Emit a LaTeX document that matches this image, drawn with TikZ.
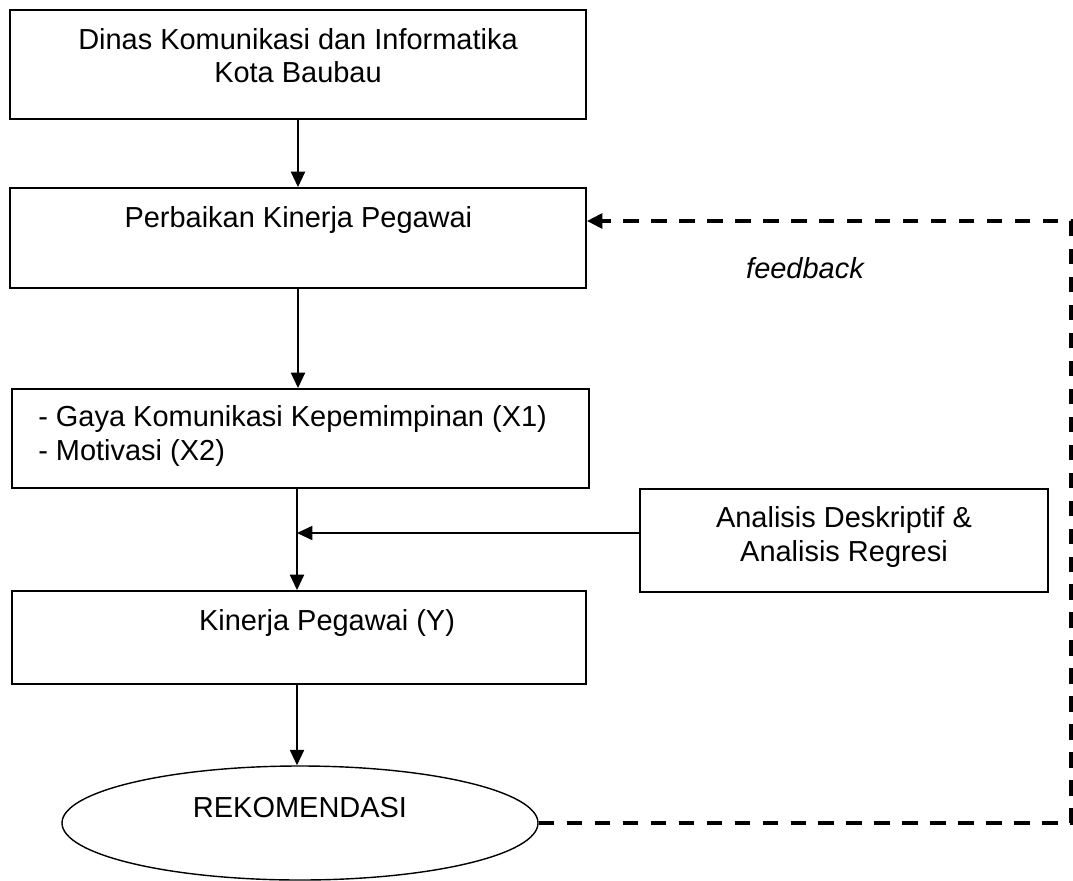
\documentclass[tikz,border=0pt]{standalone}
\usepackage{fontspec}
\setmainfont{Liberation Sans}
\usepackage{tikz}
\usetikzlibrary{arrows.meta,shapes.geometric}

\begin{document}
\begin{tikzpicture}[
        box/.style={draw, line width=1.3pt, inner sep=0pt},
        txt/.style={inner sep=0pt, font=\fontsize{20.6}{23.5}\selectfont},
        flow/.style={line width=1.4pt, -{Triangle[length=11pt, width=10pt]}},
        fback/.style={line width=2.6pt, dash pattern=on 11pt off 8.9pt, -{Triangle[length=11pt, width=10.5pt]}}
    ]
            % Frame to fix the page size
            \useasboundingbox (0,0) rectangle (26.825,-22);
            % Boxes
            \node[box, minimum width=14.4cm,  minimum height=2.725cm] (dinas)     at ( 7.45,   -1.6125) {};
            \node[box, minimum width=14.4cm,  minimum height=2.5cm]   (perbaikan) at ( 7.45,   -5.95)   {};
            \node[box, minimum width=14.425cm, minimum height=2.475cm] (variabel) at ( 7.5125, -10.9625) {};
            \node[box, minimum width=14.35cm, minimum height=2.325cm] (kinerja)   at ( 7.475, -15.9375) {};
            \node[box, minimum width=10.2cm,  minimum height=2.575cm] (analisis)  at (21.1,   -13.5125) {};
            \node[box, ellipse, line width=1pt, minimum width=11.9cm, minimum height=2.85cm] (rekom) at (7.5, -20.575) {};
            % Texts (base = last line)
            \node[txt, anchor=base, align=center] (dinas-t)     at ( 7.45,  -2.0625) {Dinas Komunikasi dan Informatika\\Kota Baubau};
            \node[txt, anchor=base]               (perbaikan-t) at ( 7.46,  -5.675)  {Perbaikan Kinerja Pegawai};
            \node[txt, anchor=base west, align=left] (variabel-t) at ( 0.95, -11.5)  {- Gaya Komunikasi Kepemimpinan (X1)\\- Motivasi (X2)};
            \node[txt, anchor=base]               (kinerja-t)   at ( 8.175, -15.75)  {Kinerja Pegawai (Y)};
            \node[txt, anchor=base, align=center] (analisis-t)  at (21.1,  -14.025)  {Analisis Deskriptif \&\\Analisis Regresi};
            \node[txt, anchor=base]               (feedback-t)  at (20.125, -6.95)   {\itshape feedback};
            \node[txt, anchor=base]               (rekom-t)     at ( 7.5,  -20.425)  {REKOMENDASI};
            % Flow
            \coordinate (join)   at ( 7.425, -13.325);
            \coordinate (fbtop)  at (26.775, -5.525);
            \coordinate (fbbot)  at (26.775, -20.575);
            \draw[flow] (dinas.south) -- (perbaikan.north);
            \draw[flow] (perbaikan.south) -- (perbaikan.south |- variabel.north);
            \draw[flow] (join |- variabel.south) -- (join |- kinerja.north);
            \draw[flow] (join -| analisis.west) -- (join);
            \draw[flow] (join |- kinerja.south) -- (join |- rekom.north);
            % Feedback loop
            \draw[fback] (rekom.east) -- (fbbot) -- (fbtop) -- (fbtop -| perbaikan.east);
        \end{tikzpicture}
\end{document}
